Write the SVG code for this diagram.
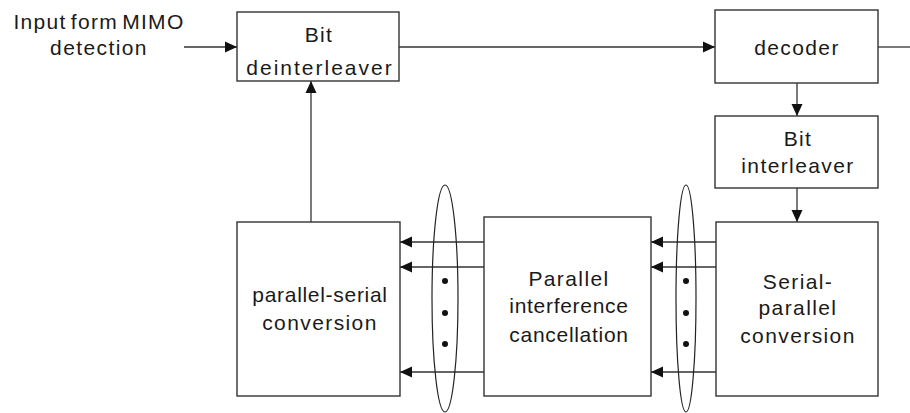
<svg xmlns="http://www.w3.org/2000/svg" width="910" height="413" viewBox="0 0 910 413">
<defs>
<style>
.box{fill:#fff;stroke:#333;stroke-width:1.4}
.ln{fill:none;stroke:#333;stroke-width:1.3}
.arr{marker-end:url(#ah)}
text{font-family:"Liberation Sans",Arial,sans-serif;font-size:21px;fill:#1a1a1a;text-anchor:middle;letter-spacing:1.4px}
.tight{letter-spacing:0.7px}
.wide{letter-spacing:2px}
.ell{fill:none;stroke:#222;stroke-width:1.2}
.dot{fill:#111}
</style>
<marker id="ah" markerUnits="userSpaceOnUse" markerWidth="12" markerHeight="12" viewBox="0 0 12 12" refX="12" refY="6" orient="auto">
<path d="M0,0.5 L12,6 L0,11.5 Z" fill="#111"/>
</marker>
</defs>
<rect width="910" height="413" fill="#fff"/>
<g id="connectors">
<line class="ln arr" x1="184" y1="47" x2="237" y2="47"/>
<line class="ln arr" x1="399" y1="47" x2="715" y2="47"/>
<line class="ln" x1="878" y1="47" x2="910" y2="47"/>
<line class="ln arr" x1="797" y1="83" x2="797" y2="116"/>
<line class="ln arr" x1="797" y1="188" x2="797" y2="222"/>
<line class="ln arr" x1="311" y1="222" x2="311" y2="81"/>
<line class="ln arr" x1="484" y1="242" x2="400" y2="242"/>
<line class="ln arr" x1="484" y1="267" x2="400" y2="267"/>
<line class="ln arr" x1="484" y1="372" x2="400" y2="372"/>
<line class="ln arr" x1="716" y1="242" x2="651" y2="242"/>
<line class="ln arr" x1="716" y1="267" x2="651" y2="267"/>
<line class="ln arr" x1="716" y1="372" x2="651" y2="372"/>
<ellipse class="ell" cx="445" cy="298.5" rx="13" ry="113.5"/>
<ellipse class="ell" cx="686" cy="298.5" rx="10" ry="113.5"/>
<circle class="dot" cx="445" cy="281" r="3"/>
<circle class="dot" cx="445" cy="313" r="3"/>
<circle class="dot" cx="445" cy="344" r="3"/>
<circle class="dot" cx="686" cy="281" r="3"/>
<circle class="dot" cx="686" cy="313" r="3"/>
<circle class="dot" cx="686" cy="344" r="3"/>
</g>
<g id="input">
<text x="99" y="29" style="letter-spacing:1.3px;word-spacing:-3px">Input form MIMO</text>
<text x="99" y="55">detection</text>
</g>
<g id="deinterleaver">
<rect class="box" x="237" y="12" width="162" height="69"/>
<text x="319" y="42">Bit</text>
<text class="wide" x="320" y="75">deinterleaver</text>
</g>
<g id="decoder">
<rect class="box" x="715" y="10" width="163" height="73"/>
<text x="797" y="55">decoder</text>
</g>
<g id="interleaver">
<rect class="box" x="715" y="116" width="163" height="72"/>
<text x="798" y="146">Bit</text>
<text x="798" y="173">interleaver</text>
</g>
<g id="serial-parallel">
<rect class="box" x="716" y="222" width="162" height="174"/>
<text x="798" y="289">Serial-</text>
<text x="798" y="315">parallel</text>
<text x="798" y="343">conversion</text>
</g>
<g id="pic">
<rect class="box" x="484" y="217" width="167" height="179"/>
<text x="569" y="286">Parallel</text>
<text class="tight" x="569" y="313">interference</text>
<text class="tight" x="569" y="342">cancellation</text>
</g>
<g id="parallel-serial">
<rect class="box" x="237" y="222" width="163" height="174"/>
<text class="tight" x="320" y="302">parallel-serial</text>
<text x="320" y="330">conversion</text>
</g>
</svg>
